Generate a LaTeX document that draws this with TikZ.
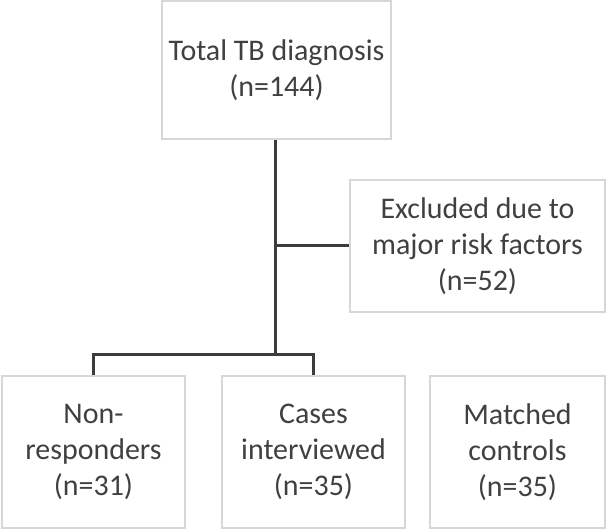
\documentclass[tikz,border=0pt]{standalone}
\usepackage{fontspec}
\setmainfont{Carlito}
\definecolor{r64g64b64}{rgb}{0.250000,0.250000,0.250000}%
\definecolor{r60g60b60}{rgb}{0.235000,0.235000,0.235000}%
\definecolor{r215g215b215}{rgb}{0.843000,0.843000,0.843000}%
\tikzset{
  flowbox/.style={draw=r215g215b215, line width=0.050000cm, fill=white,
    rectangle, align=center, text=r64g64b64, inner sep=0pt},
  flowline/.style={draw=r60g60b60, line width=0.075000cm}
}
\begin{document}
\begin{tikzpicture}
                            \useasboundingbox (0,0) rectangle (15.150000,13.225000);
                            {\fontsize{21.3}{25.6}\selectfont

                            % Drawing box total
                            \node [flowbox, minimum width=5.725000cm, minimum height=3.450000cm] (total) at (6.912500,11.475000) {Total TB diagnosis\\(n=144)};%

                            % Drawing box excluded
                            \node [flowbox, minimum width=6.375000cm, minimum height=3.300000cm] (excluded) at (11.937500,7.075000) {Excluded due to\\major risk factors\\(n=52)};%

                            % Drawing box nonresp
                            \node [flowbox, minimum width=4.575000cm, minimum height=3.800000cm] (nonresp) at (2.337500,1.925000) {Non-\\responders\\(n=31)};%

                            % Drawing box cases
                            \node [flowbox, minimum width=4.575000cm, minimum height=3.800000cm] (cases) at (7.837500,1.925000) {Cases\\interviewed\\(n=35)};%

                            % Drawing box controls
                            \node [flowbox, minimum width=4.375000cm, minimum height=3.800000cm] (controls) at (12.937500,1.925000) {Matched\\controls\\(n=35)};%

                            % Marking split point
                            \coordinate (split) at (6.875000,4.350000);%

                            % Drawing segment total split
                            \draw [flowline] (total.south -| split) -- (split);%

                            % Drawing segment to excluded
                            \draw [flowline] (split |- excluded.west) -- (excluded.west);%

                            % Drawing segment split nonresp cases
                            \draw [flowline] (nonresp.north) -- (nonresp.north |- split) -- (cases.north |- split) -- (cases.north);%
                            }
                            \end{tikzpicture}
\end{document}
